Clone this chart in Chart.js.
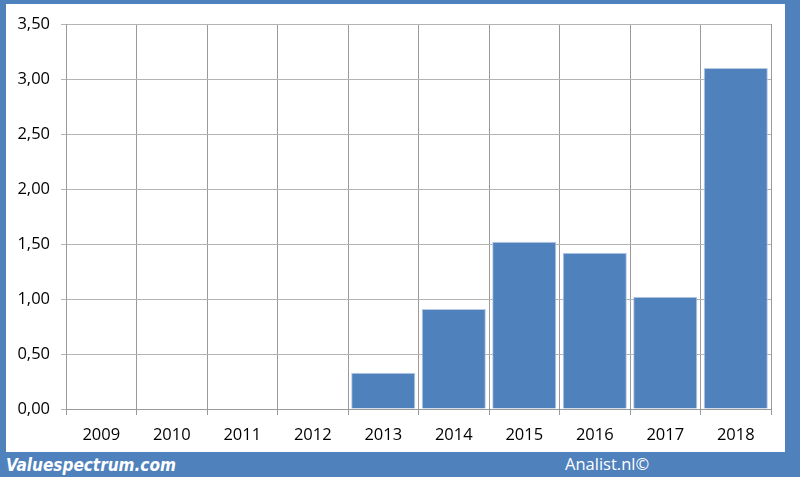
<!DOCTYPE html>
<html>
<head>
<meta charset="utf-8">
<script src="https://cdn.jsdelivr.net/npm/chart.js@4/dist/chart.umd.min.js"></script>
<style>
  html, body { margin: 0; padding: 0; background: #ffffff; }
  #frame { position: absolute; left: 0; top: 0; width: 800px; height: 477px; background: #4F81BD; }
  #panel { position: absolute; left: 6px; top: 4px; width: 779px; height: 448px; background: #ffffff; }
  #wrap { position: absolute; left: 0; top: 0; width: 803px; height: 479px; }
  .foot { position: absolute; color: #ffffff; white-space: nowrap; line-height: 1; }
  #brand { left: 6px; top: 457px; font-family: "DejaVu Sans Condensed", "DejaVu Sans", sans-serif; font-weight: bold; font-style: italic; font-size: 17px; }
  #copy { left: 565px; top: 455.5px; font-family: "Open Sans", sans-serif; font-size: 16.5px; }
</style>
</head>
<body>
<div id="frame"></div>
<div id="panel"></div>
<div class="foot" id="brand">Valuespectrum.com</div>
<div class="foot" id="copy">Analist.nl©</div>
<div id="wrap"><canvas id="c" width="803" height="479"></canvas></div>
<script>
const categories = ["2009", "2010", "2011", "2012", "2013", "2014", "2015", "2016", "2017", "2018"];
const values = [0, 0, 0, 0, 0.33, 0.91, 1.52, 1.42, 1.02, 3.10];
const yMin = 0;
const yMax = 3.5;
const yStep = 0.5;

new Chart(document.getElementById('c'), {
  type: 'bar',
  data: {
    labels: categories,
    datasets: [{
      data: values,
      backgroundColor: '#4F81BD',
      borderColor: '#B9CBE2',
      borderWidth: 1,
      barPercentage: 0.91,
      categoryPercentage: 1.0
    }]
  },
  options: {
    responsive: false,
    animation: false,
    events: [],
    layout: { padding: { left: 0, right: 32, top: 24, bottom: 0 } },
    plugins: { legend: { display: false }, tooltip: { enabled: false } },
    scales: {
      x: {
        offset: true,
        grid: { offset: true, color: '#9A9A9A', lineWidth: 1, tickLength: 6, drawTicks: true },
        border: { color: '#9A9A9A', width: 1 },
        ticks: { color: '#000000', padding: 10, font: { family: 'Open Sans', size: 16.5 }, maxRotation: 0 },
        afterFit: (s) => { s.height = 70; }
      },
      y: {
        min: yMin, max: yMax,
        grid: { color: '#B4B4B4', lineWidth: 1, tickLength: 5, drawTicks: true },
        border: { color: '#9A9A9A', width: 1 },
        ticks: {
          stepSize: yStep, color: '#000000', padding: 11,
          font: { family: 'Open Sans', size: 16.5 },
          callback: (v) => Number(v).toFixed(2).replace('.', ',')
        },
        afterFit: (s) => { s.width = 66; }
      }
    }
  }
});
</script>
</body>
</html>
